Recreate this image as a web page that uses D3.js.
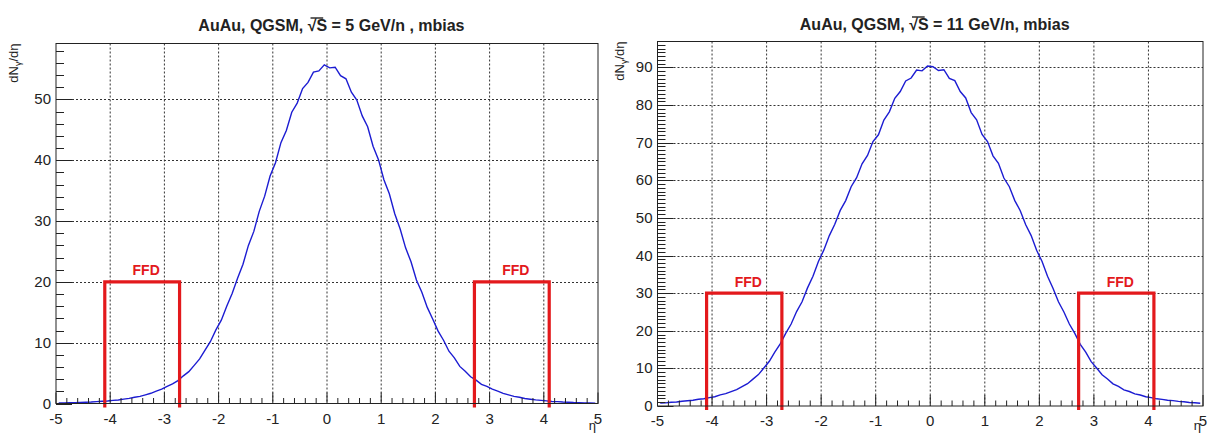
<!DOCTYPE html>
<html>
<head>
<meta charset="utf-8">
<script src="https://cdn.jsdelivr.net/npm/d3@7.9.0/dist/d3.min.js"></script>
<style>
  body { margin: 0; background: #fff; }
  svg { display: block; }
  text { font-family: "Liberation Sans", Arial, sans-serif; }
</style>
</head>
<body>
<svg id="chart" width="1210" height="434"></svg>
<script>
// eta binning of the histograms (100 bins from -5 to 5)
const etaMin = -5;
const etaMax = 5;
const binWidth = 0.1;

// dN/deta of photons, AuAu QGSM mbias, sqrt(s) = 5 GeV/n
const dndeta5 = [
  0.08, 0.1, 0.12, 0.13, 0.18, 0.21, 0.24, 0.31, 0.36, 0.41,
  0.52, 0.58, 0.72, 0.84, 1.03, 1.18, 1.43, 1.68, 2.04, 2.37,
  2.83, 3.24, 3.76, 4.55, 5.24, 6.27, 7.33, 8.79, 10.2, 12.1,
  13.7, 16.0, 18.1, 20.6, 22.9, 26.0, 28.3, 31.6, 34.1, 37.4,
  39.6, 42.9, 44.9, 47.9, 49.4, 51.8, 52.8, 54.5, 54.7, 55.7,
  55.2, 55.3, 53.9, 53.4, 51.2, 49.9, 47.3, 45.5, 42.3, 40.1,
  36.8, 34.5, 31.2, 28.7, 25.6, 23.3, 20.3, 18.3, 15.8, 13.9,
  11.9, 10.4, 8.6, 7.5, 6.1, 5.3, 4.4, 3.85, 3.15, 2.82,
  2.36, 2.02, 1.67, 1.42, 1.17, 1.02, 0.83, 0.71, 0.59, 0.51,
  0.43, 0.34, 0.31, 0.24, 0.2, 0.16, 0.14, 0.1, 0.09, 0.06
];

// same for sqrt(s) = 11 GeV/n
const dndeta11 = [
  0.78, 0.83, 0.98, 1.08, 1.27, 1.41, 1.53, 1.78, 1.93, 2.24,
  2.47, 2.95, 3.28, 3.84, 4.37, 5.16, 5.93, 7.14, 8.35, 10.1,
  11.9, 14.3, 16.5, 19.3, 21.8, 25.1, 27.7, 31.4, 34.5, 38.4,
  41.5, 45.3, 48.3, 52.0, 54.6, 58.3, 60.7, 64.4, 66.6, 70.3,
  72.1, 76.0, 78.2, 81.8, 83.6, 86.4, 87.2, 89.3, 89.1, 90.4,
  90.2, 89.2, 89.4, 87.1, 86.5, 83.6, 81.9, 78.0, 76.1, 72.2,
  70.3, 66.5, 64.5, 60.6, 58.3, 54.6, 51.9, 48.2, 45.3, 41.4,
  38.4, 34.5, 31.3, 27.7, 25.0, 21.8, 19.3, 16.4, 14.3, 11.8,
  10.1, 8.3, 7.2, 5.9, 5.2, 4.3, 3.85, 3.24, 2.93, 2.46,
  2.23, 1.91, 1.77, 1.52, 1.42, 1.22, 1.12, 0.93, 0.87, 0.72
];

// FFD acceptance boxes (eta ranges) and the box heights drawn in each panel
const ffdRanges = [[-4.1, -2.72], [2.72, 4.1]];
const ffdLevel5 = 20;
const ffdLevel11 = 30;
const ffdLabel = "FFD";

// axis ranges and tick labels
const yMax5 = 59.2;
const yMax11 = 96.9;
const xTickValues = [-5, -4, -3, -2, -1, 0, 1, 2, 3, 4, 5];
const yTicks5 = [0, 10, 20, 30, 40, 50];
const yTicks11 = [0, 10, 20, 30, 40, 50, 60, 70, 80, 90];
const energyLabels = ["5 GeV/n , mbias", "11 GeV/n, mbias"];

const svg = d3.select("#chart");
svg.append("rect").attr("width", 1210).attr("height", 434).attr("fill", "#fff");

// width of a string in the title font
function textWidth(str, size, weight) {
  const t = svg.append("text").attr("font-size", size).attr("font-weight", weight).text(str);
  const w = t.node().getComputedTextLength();
  t.remove();
  return w;
}

function drawPanel(opt) {
  const x = d3.scaleLinear().domain([etaMin, etaMax]).range([opt.left, opt.right]);
  const y = d3.scaleLinear().domain([0, opt.yMax]).range([opt.bottom, opt.top]);
  const g = svg.append("g");

  // dotted grid
  g.selectAll(".gx").data(xTickValues.slice(1, -1)).join("line")
    .attr("x1", d => x(d)).attr("x2", d => x(d))
    .attr("y1", opt.top).attr("y2", opt.bottom)
    .attr("stroke", "#333").attr("stroke-width", 1).attr("stroke-dasharray", "2,2");
  g.selectAll(".gy").data(opt.yTicks.slice(1)).join("line")
    .attr("x1", opt.left).attr("x2", opt.right)
    .attr("y1", d => Math.round(y(d)) + 0.5).attr("y2", d => Math.round(y(d)) + 0.5)
    .attr("stroke", "#333").attr("stroke-width", 1).attr("stroke-dasharray", "2,2");

  // histogram
  const centers = opt.values.map((v, i) => [etaMin + binWidth * (i + 0.5), v]);
  const line = d3.line().x(d => x(d[0])).y(d => y(d[1]));
  g.append("path").datum(centers)
    .attr("d", line)
    .attr("fill", "none").attr("stroke", "#1c1cd2").attr("stroke-width", 1.4);

  // FFD boxes
  ffdRanges.forEach(r => {
    const p = d3.path();
    p.moveTo(x(r[0]), y(0) + 4);
    p.lineTo(x(r[0]), y(opt.ffdLevel));
    p.lineTo(x(r[1]), y(opt.ffdLevel));
    p.lineTo(x(r[1]), y(0) + 4);
    g.append("path").attr("d", p.toString())
      .attr("fill", "none").attr("stroke", "#e3191c").attr("stroke-width", 3.2);
    g.append("text")
      .attr("x", x((r[0] + r[1]) / 2) + 4).attr("y", y(opt.ffdLevel) - 6.5)
      .attr("text-anchor", "middle").attr("font-size", 14).attr("font-weight", "bold")
      .attr("fill", "#e3191c").text(ffdLabel);
  });

  // frame
  g.append("rect")
    .attr("x", opt.left).attr("y", opt.top)
    .attr("width", opt.right - opt.left).attr("height", opt.bottom - opt.top)
    .attr("fill", "none").attr("stroke", "#222").attr("stroke-width", 1);

  // x ticks (inward), minor every 0.2
  const xMinor = d3.range(etaMin, etaMax + 0.001, 0.2);
  g.selectAll(".xt").data(xMinor).join("line")
    .attr("x1", d => x(d)).attr("x2", d => x(d))
    .attr("y1", opt.bottom)
    .attr("y2", d => opt.bottom - (Math.abs(d - Math.round(d)) < 1e-6 ? 11 : 5.5))
    .attr("stroke", "#222").attr("stroke-width", 1);
  g.selectAll(".xl").data(xTickValues).join("text")
    .attr("x", d => x(d)).attr("y", opt.bottom + 20)
    .attr("text-anchor", "middle").attr("font-size", 15).attr("fill", "#222")
    .text(d => d < 0 ? "-" + Math.abs(d) : d);

  // y ticks (inward)
  const yMinor = d3.range(0, opt.yMax, opt.yMinorStep);
  g.selectAll(".yt").data(yMinor).join("line")
    .attr("y1", d => Math.round(y(d)) + 0.5).attr("y2", d => Math.round(y(d)) + 0.5)
    .attr("x1", opt.left)
    .attr("x2", d => opt.left + (d % 10 === 0 ? 16 : 8))
    .attr("stroke", "#222").attr("stroke-width", 1);
  g.selectAll(".yl").data(opt.yTicks).join("text")
    .attr("x", opt.left - 5).attr("y", d => y(d) + 5)
    .attr("text-anchor", "end").attr("font-size", 15).attr("fill", "#222")
    .text(d => d);

  // axis titles
  g.append("text")
    .attr("x", opt.right - 2).attr("y", 430)
    .attr("text-anchor", "end").attr("font-size", 13).attr("fill", "#222")
    .text("η");
  const yt = g.append("text")
    .attr("transform", `translate(${opt.yTitleX},${opt.top}) rotate(-90)`)
    .attr("text-anchor", "end").attr("font-size", 13).attr("fill", "#222");
  yt.append("tspan").text("dN");
  yt.append("tspan").attr("font-size", 9).attr("dy", 3).text("γ");
  yt.append("tspan").attr("dy", -3).text("/dη");

  // title with sqrt(S): laid out from measured pieces
  const fs = 16;
  const pre = "AuAu, QGSM,  ";
  const post = " = " + opt.energy;
  const wPre = textWidth(pre, fs, "bold");
  const wRad = textWidth("√", fs, "bold");
  const wS = textWidth("S", fs, "bold");
  const wPost = textWidth(post, fs, "bold");
  const x0 = (opt.left + opt.right) / 2 - (wPre + wRad + wS + wPost) / 2;
  const title = g.append("text")
    .attr("x", x0).attr("y", opt.titleY)
    .attr("font-size", fs).attr("font-weight", "bold").attr("fill", "#222");
  title.append("tspan").text(pre + "√S" + post);
  g.append("line")
    .attr("x1", x0 + wPre + wRad - 1.5).attr("x2", x0 + wPre + wRad + wS + 0.5)
    .attr("y1", opt.titleY - 13).attr("y2", opt.titleY - 13)
    .attr("stroke", "#222").attr("stroke-width", 1.4);
}

drawPanel({
  left: 56, right: 598, top: 43.5, bottom: 403.5,
  yMax: yMax5, yTicks: yTicks5, yMinorStep: 2,
  values: dndeta5, ffdLevel: ffdLevel5,
  energy: energyLabels[0], titleY: 31, yTitleX: 18
});

drawPanel({
  left: 657.5, right: 1203, top: 41.5, bottom: 406,
  yMax: yMax11, yTicks: yTicks11, yMinorStep: 1,
  values: dndeta11, ffdLevel: ffdLevel11,
  energy: energyLabels[1], titleY: 30, yTitleX: 624
});
</script>
</body>
</html>
